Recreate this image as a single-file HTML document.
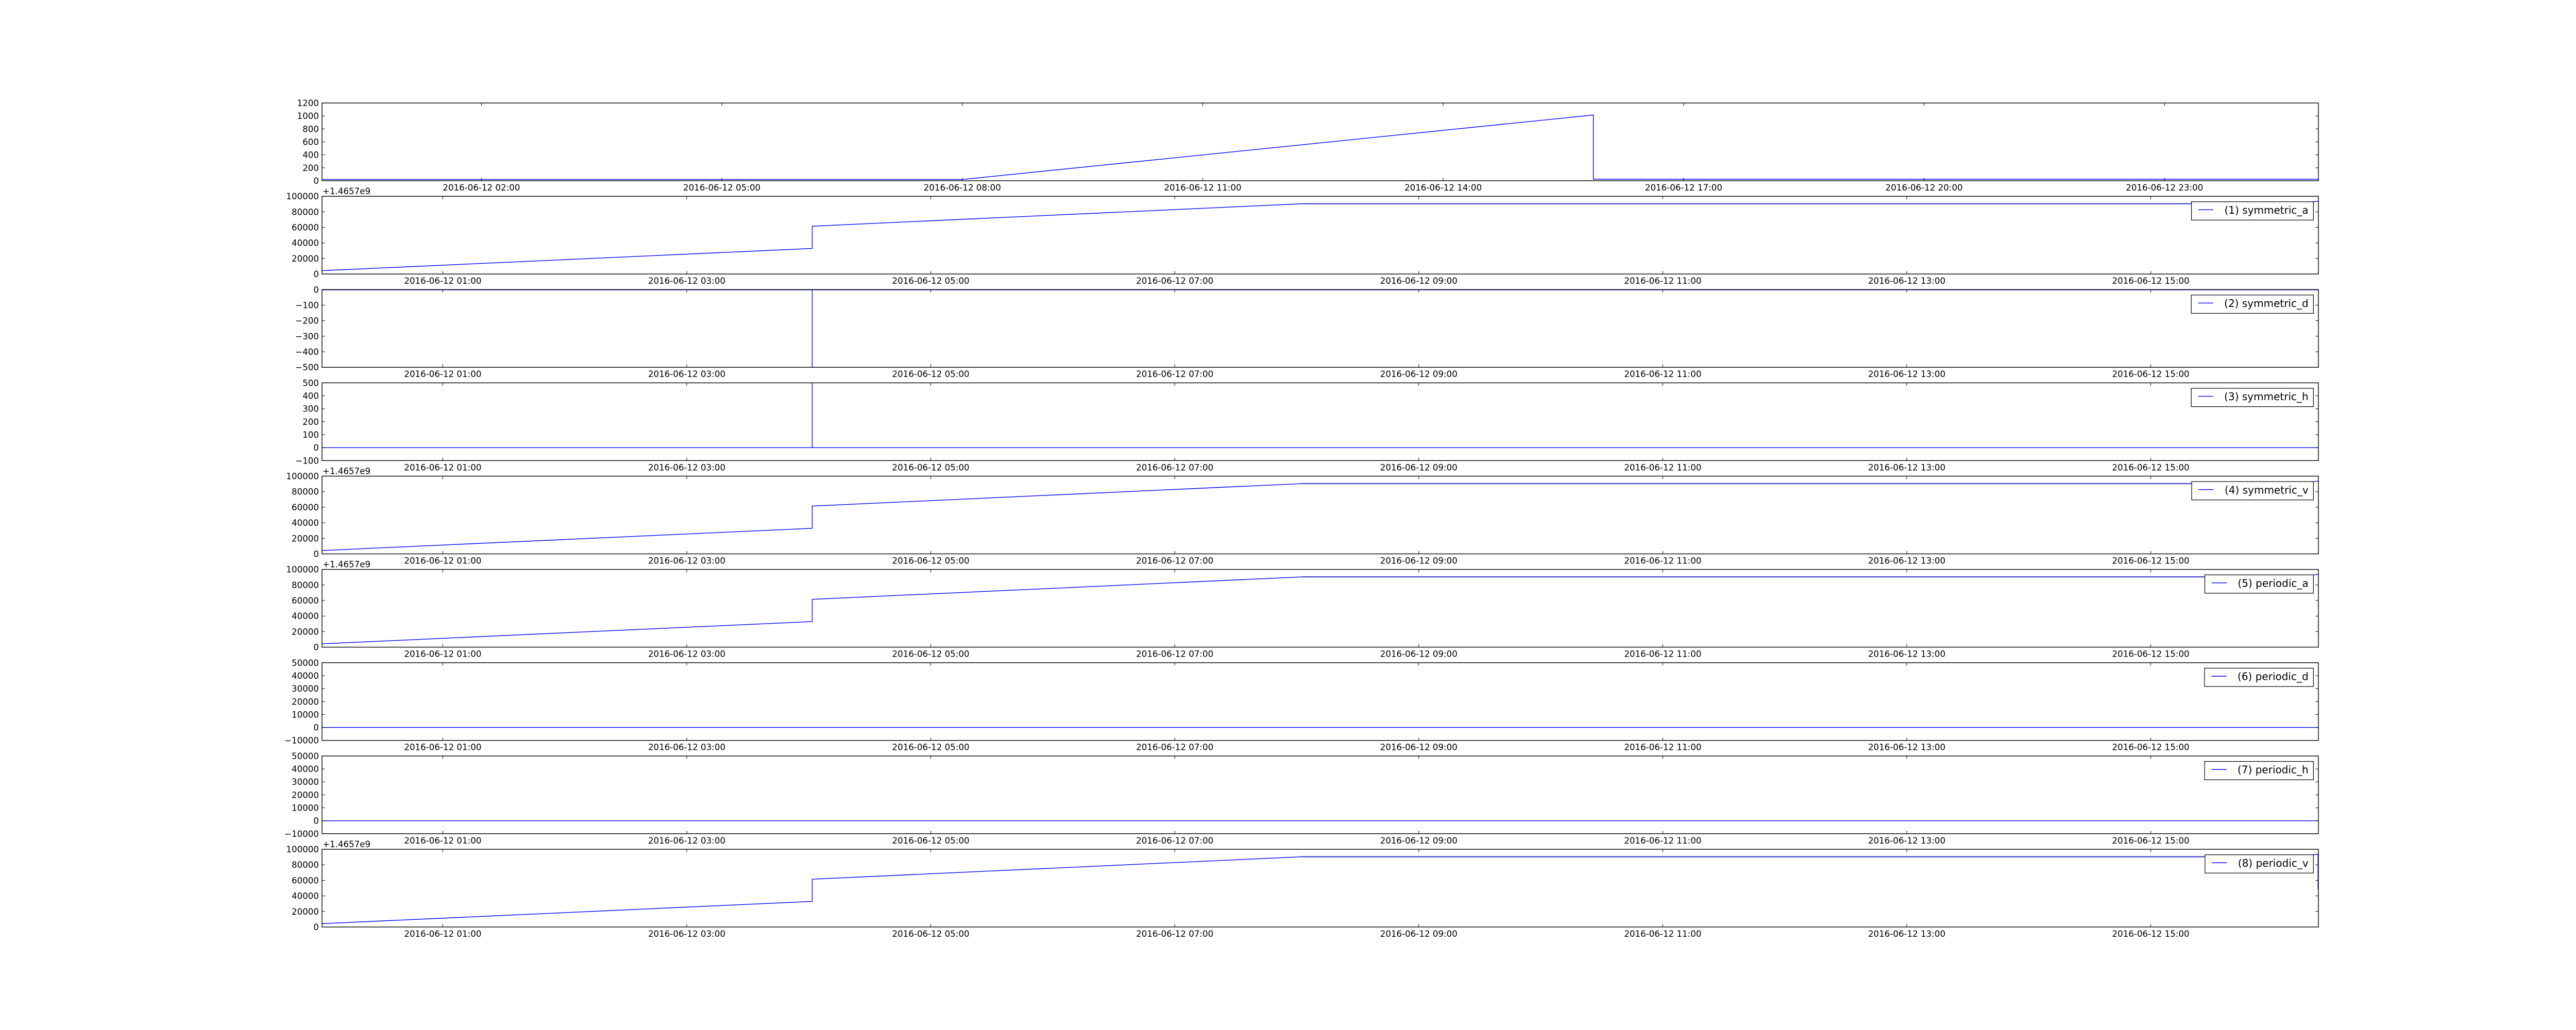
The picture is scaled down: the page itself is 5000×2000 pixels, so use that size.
<!DOCTYPE html>
<html>
<head>
<meta charset="utf-8">
<style>
html,body{margin:0;padding:0;background:#fff;}
body{width:5000px;height:2000px;overflow:hidden;}
svg{display:block;}
.d{fill:none;stroke:#0000ff;stroke-width:1.4;stroke-linejoin:miter;}
.p{fill:none;stroke:#4848c8;stroke-width:2.3;}
.f{fill:none;stroke:#000;stroke-width:1.4;}
.t{fill:none;stroke:#000;stroke-width:1;}
.lg{fill:#fff;stroke:#000;stroke-width:1.2;}
.ll{stroke:#0000ff;stroke-width:1.4;}
text{font-family:"DejaVu Sans","Liberation Sans",sans-serif;font-size:16.67px;fill:#000;}
.yl{text-anchor:end;}
.xl{text-anchor:middle;}
.lt{font-size:20px;}
</style>
</head>
<body>
<svg width="5000" height="2000" viewBox="0 0 5000 2000" xmlns="http://www.w3.org/2000/svg">
<defs>
<path id="xt0" class="t" d="M934.4 150.94v-5.6M934.4 0v5.6M1401.1 150.94v-5.6M1401.1 0v5.6M1867.8 150.94v-5.6M1867.8 0v5.6M2334.5 150.94v-5.6M2334.5 0v5.6M2801.2 150.94v-5.6M2801.2 0v5.6M3267.9 150.94v-5.6M3267.9 0v5.6M3734.6 150.94v-5.6M3734.6 0v5.6M4201.3 150.94v-5.6M4201.3 0v5.6"/>
<path id="xt" class="t" d="M859.4 150.94v-5.6M859.4 0v5.6M1333 150.94v-5.6M1333 0v5.6M1806.6 150.94v-5.6M1806.6 0v5.6M2280.2 150.94v-5.6M2280.2 0v5.6M2753.8 150.94v-5.6M2753.8 0v5.6M3227.4 150.94v-5.6M3227.4 0v5.6M3701 150.94v-5.6M3701 0v5.6M4174.6 150.94v-5.6M4174.6 0v5.6"/>
<path id="ya" class="t" d="M625 0h5.6M4500 0h-5.6M625 30.19h5.6M4500 30.19h-5.6M625 60.38h5.6M4500 60.38h-5.6M625 90.57h5.6M4500 90.57h-5.6M625 120.75h5.6M4500 120.75h-5.6M625 150.94h5.6M4500 150.94h-5.6"/>
<path id="yb" class="t" d="M625 0h5.6M4500 0h-5.6M625 25.16h5.6M4500 25.16h-5.6M625 50.31h5.6M4500 50.31h-5.6M625 75.47h5.6M4500 75.47h-5.6M625 100.63h5.6M4500 100.63h-5.6M625 125.78h5.6M4500 125.78h-5.6M625 150.94h5.6M4500 150.94h-5.6"/>
<g id="dA">
<polyline class="d" points="625,144.45 1576.5,101.28 1576.5,58.11 2528,14.49 4460,14.49 4500,9.57"/>
<line class="p" x1="2528" y1="14.49" x2="4460" y2="14.49"/>
</g>
</defs>

<!-- Panel 0 -->
<g transform="translate(0,200)">
<polyline class="d" points="625,148.4 1869,148.4 3092.7,23.3 3092.7,148 4500,148"/>
<rect class="f" x="625" y="0" width="3875" height="150.94"/>
<use href="#xt0"/><use href="#yb"/>
<text class="yl" x="619" y="6">1200</text>
<text class="yl" x="619" y="31.16">1000</text>
<text class="yl" x="619" y="56.31">800</text>
<text class="yl" x="619" y="81.47">600</text>
<text class="yl" x="619" y="106.63">400</text>
<text class="yl" x="619" y="131.78">200</text>
<text class="yl" x="619" y="156.94">0</text>
<text class="xl" x="934.4" y="169.94">2016-06-12 02:00</text>
<text class="xl" x="1401.1" y="169.94">2016-06-12 05:00</text>
<text class="xl" x="1867.8" y="169.94">2016-06-12 08:00</text>
<text class="xl" x="2334.5" y="169.94">2016-06-12 11:00</text>
<text class="xl" x="2801.2" y="169.94">2016-06-12 14:00</text>
<text class="xl" x="3267.9" y="169.94">2016-06-12 17:00</text>
<text class="xl" x="3734.6" y="169.94">2016-06-12 20:00</text>
<text class="xl" x="4201.3" y="169.94">2016-06-12 23:00</text>
</g>

<!-- Panel 1 -->
<g transform="translate(0,381.13)">
<use href="#dA"/>
<rect class="f" x="625" y="0" width="3875" height="150.94"/>
<use href="#xt"/><use href="#ya"/>
<text x="626" y="-4">+1.4657e9</text>
<text class="yl" x="619" y="6">100000</text>
<text class="yl" x="619" y="36.19">80000</text>
<text class="yl" x="619" y="66.38">60000</text>
<text class="yl" x="619" y="96.57">40000</text>
<text class="yl" x="619" y="126.75">20000</text>
<text class="yl" x="619" y="156.94">0</text>
<rect class="lg" x="4253.6" y="10.6" width="236.7" height="35.6"/>
<line class="ll" x1="4267" y1="26.2" x2="4296" y2="26.2"/>
<text class="lt" x="4480.7" y="33.8" text-anchor="end">(1) symmetric_a</text>
<text class="xl" x="859.4" y="169.94">2016-06-12 01:00</text>
<text class="xl" x="1333" y="169.94">2016-06-12 03:00</text>
<text class="xl" x="1806.6" y="169.94">2016-06-12 05:00</text>
<text class="xl" x="2280.2" y="169.94">2016-06-12 07:00</text>
<text class="xl" x="2753.8" y="169.94">2016-06-12 09:00</text>
<text class="xl" x="3227.4" y="169.94">2016-06-12 11:00</text>
<text class="xl" x="3701" y="169.94">2016-06-12 13:00</text>
<text class="xl" x="4174.6" y="169.94">2016-06-12 15:00</text>
</g>

<!-- Panel 2 -->
<g transform="translate(0,562.26)">
<polyline class="d" points="625,0.5 1576.5,0.5 1576.5,150.94 1576.5,0.5 4500,0.5"/>
<rect class="f" x="625" y="0" width="3875" height="150.94"/>
<use href="#xt"/><use href="#ya"/>
<text class="yl" x="619" y="6">0</text>
<text class="yl" x="619" y="36.19">−100</text>
<text class="yl" x="619" y="66.38">−200</text>
<text class="yl" x="619" y="96.57">−300</text>
<text class="yl" x="619" y="126.75">−400</text>
<text class="yl" x="619" y="156.94">−500</text>
<rect class="lg" x="4253.2" y="10.6" width="237.1" height="35.6"/>
<line class="ll" x1="4266.6" y1="26.2" x2="4295.6" y2="26.2"/>
<text class="lt" x="4480.7" y="33.8" text-anchor="end">(2) symmetric_d</text>
<text class="xl" x="859.4" y="169.94">2016-06-12 01:00</text>
<text class="xl" x="1333" y="169.94">2016-06-12 03:00</text>
<text class="xl" x="1806.6" y="169.94">2016-06-12 05:00</text>
<text class="xl" x="2280.2" y="169.94">2016-06-12 07:00</text>
<text class="xl" x="2753.8" y="169.94">2016-06-12 09:00</text>
<text class="xl" x="3227.4" y="169.94">2016-06-12 11:00</text>
<text class="xl" x="3701" y="169.94">2016-06-12 13:00</text>
<text class="xl" x="4174.6" y="169.94">2016-06-12 15:00</text>
</g>

<!-- Panel 3 -->
<g transform="translate(0,743.40)">
<polyline class="d" points="625,125.78 1576.5,125.78 1576.5,0 1576.5,125.78 4500,125.78"/>
<rect class="f" x="625" y="0" width="3875" height="150.94"/>
<use href="#xt"/><use href="#yb"/>
<text class="yl" x="619" y="6">500</text>
<text class="yl" x="619" y="31.16">400</text>
<text class="yl" x="619" y="56.31">300</text>
<text class="yl" x="619" y="81.47">200</text>
<text class="yl" x="619" y="106.63">100</text>
<text class="yl" x="619" y="131.78">0</text>
<text class="yl" x="619" y="156.94">−100</text>
<rect class="lg" x="4253.2" y="10.6" width="237.1" height="35.6"/>
<line class="ll" x1="4266.6" y1="26.2" x2="4295.6" y2="26.2"/>
<text class="lt" x="4480.7" y="33.8" text-anchor="end">(3) symmetric_h</text>
<text class="xl" x="859.4" y="169.94">2016-06-12 01:00</text>
<text class="xl" x="1333" y="169.94">2016-06-12 03:00</text>
<text class="xl" x="1806.6" y="169.94">2016-06-12 05:00</text>
<text class="xl" x="2280.2" y="169.94">2016-06-12 07:00</text>
<text class="xl" x="2753.8" y="169.94">2016-06-12 09:00</text>
<text class="xl" x="3227.4" y="169.94">2016-06-12 11:00</text>
<text class="xl" x="3701" y="169.94">2016-06-12 13:00</text>
<text class="xl" x="4174.6" y="169.94">2016-06-12 15:00</text>
</g>

<!-- Panel 4 -->
<g transform="translate(0,924.53)">
<use href="#dA"/>
<rect class="f" x="625" y="0" width="3875" height="150.94"/>
<use href="#xt"/><use href="#ya"/>
<text x="626" y="-4">+1.4657e9</text>
<text class="yl" x="619" y="6">100000</text>
<text class="yl" x="619" y="36.19">80000</text>
<text class="yl" x="619" y="66.38">60000</text>
<text class="yl" x="619" y="96.57">40000</text>
<text class="yl" x="619" y="126.75">20000</text>
<text class="yl" x="619" y="156.94">0</text>
<rect class="lg" x="4254" y="10.6" width="236.3" height="35.6"/>
<line class="ll" x1="4267.4" y1="26.2" x2="4296.4" y2="26.2"/>
<text class="lt" x="4480.7" y="33.8" text-anchor="end">(4) symmetric_v</text>
<text class="xl" x="859.4" y="169.94">2016-06-12 01:00</text>
<text class="xl" x="1333" y="169.94">2016-06-12 03:00</text>
<text class="xl" x="1806.6" y="169.94">2016-06-12 05:00</text>
<text class="xl" x="2280.2" y="169.94">2016-06-12 07:00</text>
<text class="xl" x="2753.8" y="169.94">2016-06-12 09:00</text>
<text class="xl" x="3227.4" y="169.94">2016-06-12 11:00</text>
<text class="xl" x="3701" y="169.94">2016-06-12 13:00</text>
<text class="xl" x="4174.6" y="169.94">2016-06-12 15:00</text>
</g>

<!-- Panel 5 -->
<g transform="translate(0,1105.66)">
<use href="#dA"/>
<rect class="f" x="625" y="0" width="3875" height="150.94"/>
<use href="#xt"/><use href="#ya"/>
<text x="626" y="-4">+1.4657e9</text>
<text class="yl" x="619" y="6">100000</text>
<text class="yl" x="619" y="36.19">80000</text>
<text class="yl" x="619" y="66.38">60000</text>
<text class="yl" x="619" y="96.57">40000</text>
<text class="yl" x="619" y="126.75">20000</text>
<text class="yl" x="619" y="156.94">0</text>
<rect class="lg" x="4279.5" y="10.6" width="210.8" height="35.6"/>
<line class="ll" x1="4292.9" y1="26.2" x2="4321.9" y2="26.2"/>
<text class="lt" x="4480.7" y="33.8" text-anchor="end">(5) periodic_a</text>
<text class="xl" x="859.4" y="169.94">2016-06-12 01:00</text>
<text class="xl" x="1333" y="169.94">2016-06-12 03:00</text>
<text class="xl" x="1806.6" y="169.94">2016-06-12 05:00</text>
<text class="xl" x="2280.2" y="169.94">2016-06-12 07:00</text>
<text class="xl" x="2753.8" y="169.94">2016-06-12 09:00</text>
<text class="xl" x="3227.4" y="169.94">2016-06-12 11:00</text>
<text class="xl" x="3701" y="169.94">2016-06-12 13:00</text>
<text class="xl" x="4174.6" y="169.94">2016-06-12 15:00</text>
</g>

<!-- Panel 6 -->
<g transform="translate(0,1286.79)">
<polyline class="d" points="625,125.78 4500,125.78"/>
<rect class="f" x="625" y="0" width="3875" height="150.94"/>
<use href="#xt"/><use href="#yb"/>
<text class="yl" x="619" y="6">50000</text>
<text class="yl" x="619" y="31.16">40000</text>
<text class="yl" x="619" y="56.31">30000</text>
<text class="yl" x="619" y="81.47">20000</text>
<text class="yl" x="619" y="106.63">10000</text>
<text class="yl" x="619" y="131.78">0</text>
<text class="yl" x="619" y="156.94">−10000</text>
<rect class="lg" x="4279" y="10.6" width="211.3" height="35.6"/>
<line class="ll" x1="4292.4" y1="26.2" x2="4321.4" y2="26.2"/>
<text class="lt" x="4480.7" y="33.8" text-anchor="end">(6) periodic_d</text>
<text class="xl" x="859.4" y="169.94">2016-06-12 01:00</text>
<text class="xl" x="1333" y="169.94">2016-06-12 03:00</text>
<text class="xl" x="1806.6" y="169.94">2016-06-12 05:00</text>
<text class="xl" x="2280.2" y="169.94">2016-06-12 07:00</text>
<text class="xl" x="2753.8" y="169.94">2016-06-12 09:00</text>
<text class="xl" x="3227.4" y="169.94">2016-06-12 11:00</text>
<text class="xl" x="3701" y="169.94">2016-06-12 13:00</text>
<text class="xl" x="4174.6" y="169.94">2016-06-12 15:00</text>
</g>

<!-- Panel 7 -->
<g transform="translate(0,1467.92)">
<polyline class="d" points="625,125.78 4500,125.78"/>
<rect class="f" x="625" y="0" width="3875" height="150.94"/>
<use href="#xt"/><use href="#yb"/>
<text class="yl" x="619" y="6">50000</text>
<text class="yl" x="619" y="31.16">40000</text>
<text class="yl" x="619" y="56.31">30000</text>
<text class="yl" x="619" y="81.47">20000</text>
<text class="yl" x="619" y="106.63">10000</text>
<text class="yl" x="619" y="131.78">0</text>
<text class="yl" x="619" y="156.94">−10000</text>
<rect class="lg" x="4279.1" y="10.6" width="211.2" height="35.6"/>
<line class="ll" x1="4292.5" y1="26.2" x2="4321.5" y2="26.2"/>
<text class="lt" x="4480.7" y="33.8" text-anchor="end">(7) periodic_h</text>
<text class="xl" x="859.4" y="169.94">2016-06-12 01:00</text>
<text class="xl" x="1333" y="169.94">2016-06-12 03:00</text>
<text class="xl" x="1806.6" y="169.94">2016-06-12 05:00</text>
<text class="xl" x="2280.2" y="169.94">2016-06-12 07:00</text>
<text class="xl" x="2753.8" y="169.94">2016-06-12 09:00</text>
<text class="xl" x="3227.4" y="169.94">2016-06-12 11:00</text>
<text class="xl" x="3701" y="169.94">2016-06-12 13:00</text>
<text class="xl" x="4174.6" y="169.94">2016-06-12 15:00</text>
</g>

<!-- Panel 8 -->
<g transform="translate(0,1649.06)">
<use href="#dA"/>
<line class="d" x1="4499.3" y1="9.57" x2="4499.3" y2="77"/>
<rect class="f" x="625" y="0" width="3875" height="150.94"/>
<use href="#xt"/><use href="#ya"/>
<text x="626" y="-4">+1.4657e9</text>
<text class="yl" x="619" y="6">100000</text>
<text class="yl" x="619" y="36.19">80000</text>
<text class="yl" x="619" y="66.38">60000</text>
<text class="yl" x="619" y="96.57">40000</text>
<text class="yl" x="619" y="126.75">20000</text>
<text class="yl" x="619" y="156.94">0</text>
<rect class="lg" x="4279.9" y="10.6" width="210.4" height="35.6"/>
<line class="ll" x1="4293.3" y1="26.2" x2="4322.3" y2="26.2"/>
<text class="lt" x="4480.7" y="33.8" text-anchor="end">(8) periodic_v</text>
<text class="xl" x="859.4" y="169.94">2016-06-12 01:00</text>
<text class="xl" x="1333" y="169.94">2016-06-12 03:00</text>
<text class="xl" x="1806.6" y="169.94">2016-06-12 05:00</text>
<text class="xl" x="2280.2" y="169.94">2016-06-12 07:00</text>
<text class="xl" x="2753.8" y="169.94">2016-06-12 09:00</text>
<text class="xl" x="3227.4" y="169.94">2016-06-12 11:00</text>
<text class="xl" x="3701" y="169.94">2016-06-12 13:00</text>
<text class="xl" x="4174.6" y="169.94">2016-06-12 15:00</text>
</g>
</svg>
</body>
</html>
